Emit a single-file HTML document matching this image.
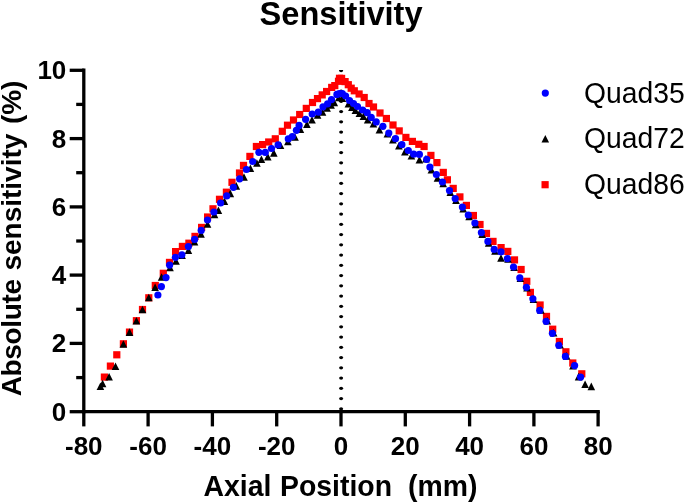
<!DOCTYPE html>
<html><head><meta charset="utf-8"><style>
html,body{margin:0;padding:0;background:#fff;}
svg{display:block;will-change:transform;}
</style></head><body>
<svg width="685" height="502" viewBox="0 0 685 502">
<defs><clipPath id="pc"><rect x="84" y="70" width="520" height="342"/></clipPath></defs>
<rect width="685" height="502" fill="#fff"/>
<g fill="#000" clip-path="url(#pc)"><ellipse cx="341.1" cy="408.8" rx="2.0" ry="1.65"/><ellipse cx="341.1" cy="398.6" rx="2.0" ry="1.65"/><ellipse cx="341.1" cy="388.3" rx="2.0" ry="1.65"/><ellipse cx="341.1" cy="378.1" rx="2.0" ry="1.65"/><ellipse cx="341.1" cy="367.8" rx="2.0" ry="1.65"/><ellipse cx="341.1" cy="357.6" rx="2.0" ry="1.65"/><ellipse cx="341.1" cy="347.3" rx="2.0" ry="1.65"/><ellipse cx="341.1" cy="337.1" rx="2.0" ry="1.65"/><ellipse cx="341.1" cy="326.8" rx="2.0" ry="1.65"/><ellipse cx="341.1" cy="316.6" rx="2.0" ry="1.65"/><ellipse cx="341.1" cy="306.3" rx="2.0" ry="1.65"/><ellipse cx="341.1" cy="296.1" rx="2.0" ry="1.65"/><ellipse cx="341.1" cy="285.8" rx="2.0" ry="1.65"/><ellipse cx="341.1" cy="275.6" rx="2.0" ry="1.65"/><ellipse cx="341.1" cy="265.3" rx="2.0" ry="1.65"/><ellipse cx="341.1" cy="255.1" rx="2.0" ry="1.65"/><ellipse cx="341.1" cy="244.8" rx="2.0" ry="1.65"/><ellipse cx="341.1" cy="234.6" rx="2.0" ry="1.65"/><ellipse cx="341.1" cy="224.3" rx="2.0" ry="1.65"/><ellipse cx="341.1" cy="214.1" rx="2.0" ry="1.65"/><ellipse cx="341.1" cy="203.8" rx="2.0" ry="1.65"/><ellipse cx="341.1" cy="193.6" rx="2.0" ry="1.65"/><ellipse cx="341.1" cy="183.3" rx="2.0" ry="1.65"/><ellipse cx="341.1" cy="173.1" rx="2.0" ry="1.65"/><ellipse cx="341.1" cy="162.8" rx="2.0" ry="1.65"/><ellipse cx="341.1" cy="152.6" rx="2.0" ry="1.65"/><ellipse cx="341.1" cy="142.3" rx="2.0" ry="1.65"/><ellipse cx="341.1" cy="132.1" rx="2.0" ry="1.65"/><ellipse cx="341.1" cy="121.8" rx="2.0" ry="1.65"/><ellipse cx="341.1" cy="111.6" rx="2.0" ry="1.65"/><ellipse cx="341.1" cy="101.3" rx="2.0" ry="1.65"/><ellipse cx="341.1" cy="91.1" rx="2.0" ry="1.65"/><ellipse cx="341.1" cy="80.8" rx="2.0" ry="1.65"/><ellipse cx="341.1" cy="70.6" rx="2.0" ry="1.65"/></g>
<g fill="#ff0000"><rect x="100.8" y="373.5" width="7.2" height="7.2"/><rect x="106.8" y="362.5" width="7.2" height="7.2"/><rect x="113.2" y="351.2" width="7.2" height="7.2"/><rect x="119.8" y="340.2" width="7.2" height="7.2"/><rect x="125.9" y="328.5" width="7.2" height="7.2"/><rect x="132.8" y="317.1" width="7.2" height="7.2"/><rect x="138.9" y="305.9" width="7.2" height="7.2"/><rect x="145.2" y="294.2" width="7.2" height="7.2"/><rect x="151.7" y="281.9" width="7.2" height="7.2"/><rect x="159.7" y="269.7" width="7.2" height="7.2"/><rect x="165.9" y="258.8" width="7.2" height="7.2"/><rect x="172.0" y="248.0" width="7.2" height="7.2"/><rect x="178.8" y="242.8" width="7.2" height="7.2"/><rect x="185.3" y="239.6" width="7.2" height="7.2"/><rect x="191.4" y="232.8" width="7.2" height="7.2"/><rect x="198.0" y="223.8" width="7.2" height="7.2"/><rect x="204.0" y="213.4" width="7.2" height="7.2"/><rect x="209.4" y="205.2" width="7.2" height="7.2"/><rect x="215.9" y="195.7" width="7.2" height="7.2"/><rect x="222.8" y="188.6" width="7.2" height="7.2"/><rect x="228.4" y="178.7" width="7.2" height="7.2"/><rect x="235.9" y="169.4" width="7.2" height="7.2"/><rect x="239.9" y="161.8" width="7.2" height="7.2"/><rect x="246.3" y="152.8" width="7.2" height="7.2"/><rect x="252.8" y="142.9" width="7.2" height="7.2"/><rect x="259.0" y="141.0" width="7.2" height="7.2"/><rect x="265.1" y="138.4" width="7.2" height="7.2"/><rect x="271.7" y="135.2" width="7.2" height="7.2"/><rect x="278.7" y="127.7" width="7.2" height="7.2"/><rect x="283.9" y="121.6" width="7.2" height="7.2"/><rect x="289.9" y="116.4" width="7.2" height="7.2"/><rect x="296.1" y="110.9" width="7.2" height="7.2"/><rect x="302.7" y="104.8" width="7.2" height="7.2"/><rect x="308.9" y="98.9" width="7.2" height="7.2"/><rect x="313.9" y="95.0" width="7.2" height="7.2"/><rect x="318.6" y="91.3" width="7.2" height="7.2"/><rect x="323.0" y="87.9" width="7.2" height="7.2"/><rect x="328.1" y="83.8" width="7.2" height="7.2"/><rect x="331.2" y="82.0" width="7.2" height="7.2"/><rect x="334.9" y="77.7" width="7.2" height="7.2"/><rect x="335.9" y="74.7" width="7.2" height="7.2"/><rect x="338.0" y="74.8" width="7.2" height="7.2"/><rect x="341.5" y="78.0" width="7.2" height="7.2"/><rect x="344.7" y="81.1" width="7.2" height="7.2"/><rect x="347.6" y="84.6" width="7.2" height="7.2"/><rect x="350.7" y="87.2" width="7.2" height="7.2"/><rect x="355.5" y="90.4" width="7.2" height="7.2"/><rect x="360.6" y="93.9" width="7.2" height="7.2"/><rect x="365.4" y="99.9" width="7.2" height="7.2"/><rect x="369.9" y="103.4" width="7.2" height="7.2"/><rect x="376.4" y="109.4" width="7.2" height="7.2"/><rect x="382.8" y="114.9" width="7.2" height="7.2"/><rect x="389.4" y="121.4" width="7.2" height="7.2"/><rect x="395.6" y="127.3" width="7.2" height="7.2"/><rect x="402.3" y="133.8" width="7.2" height="7.2"/><rect x="408.8" y="137.8" width="7.2" height="7.2"/><rect x="415.2" y="140.7" width="7.2" height="7.2"/><rect x="420.5" y="142.9" width="7.2" height="7.2"/><rect x="427.3" y="151.8" width="7.2" height="7.2"/><rect x="433.3" y="159.0" width="7.2" height="7.2"/><rect x="439.7" y="168.8" width="7.2" height="7.2"/><rect x="443.8" y="176.2" width="7.2" height="7.2"/><rect x="449.6" y="184.8" width="7.2" height="7.2"/><rect x="456.3" y="193.3" width="7.2" height="7.2"/><rect x="462.8" y="201.8" width="7.2" height="7.2"/><rect x="469.8" y="211.9" width="7.2" height="7.2"/><rect x="476.4" y="220.9" width="7.2" height="7.2"/><rect x="482.9" y="229.8" width="7.2" height="7.2"/><rect x="489.4" y="237.8" width="7.2" height="7.2"/><rect x="497.5" y="244.0" width="7.2" height="7.2"/><rect x="504.2" y="247.8" width="7.2" height="7.2"/><rect x="510.9" y="256.3" width="7.2" height="7.2"/><rect x="517.5" y="265.9" width="7.2" height="7.2"/><rect x="523.2" y="277.7" width="7.2" height="7.2"/><rect x="526.8" y="288.8" width="7.2" height="7.2"/><rect x="536.5" y="301.4" width="7.2" height="7.2"/><rect x="542.9" y="312.8" width="7.2" height="7.2"/><rect x="549.1" y="325.6" width="7.2" height="7.2"/><rect x="555.8" y="337.9" width="7.2" height="7.2"/><rect x="562.3" y="348.2" width="7.2" height="7.2"/><rect x="569.2" y="359.4" width="7.2" height="7.2"/><rect x="578.2" y="370.2" width="7.2" height="7.2"/></g>
<g fill="#000"><path d="M100.4 382.4L104.2 390.0L96.6 390.0Z"/><path d="M102.6 379.7L106.4 387.3L98.8 387.3Z"/><path d="M109.1 373.0L112.9 380.6L105.3 380.6Z"/><path d="M115.5 362.4L119.3 370.0L111.7 370.0Z"/><path d="M123.4 340.2L127.2 347.8L119.6 347.8Z"/><path d="M129.5 328.3L133.3 335.9L125.7 335.9Z"/><path d="M136.4 316.9L140.2 324.5L132.6 324.5Z"/><path d="M142.5 305.7L146.3 313.3L138.7 313.3Z"/><path d="M148.8 293.7L152.6 301.3L145.0 301.3Z"/><path d="M155.1 283.5L158.9 291.1L151.3 291.1Z"/><path d="M161.6 273.2L165.4 280.8L157.8 280.8Z"/><path d="M170.0 263.6L173.8 271.2L166.2 271.2Z"/><path d="M176.0 257.2L179.8 264.8L172.2 264.8Z"/><path d="M182.1 251.5L185.9 259.1L178.3 259.1Z"/><path d="M188.4 246.5L192.2 254.1L184.6 254.1Z"/><path d="M194.5 238.0L198.3 245.6L190.7 245.6Z"/><path d="M201.0 230.1L204.8 237.7L197.2 237.7Z"/><path d="M207.5 220.2L211.3 227.8L203.7 227.8Z"/><path d="M214.5 210.7L218.3 218.3L210.7 218.3Z"/><path d="M218.4 206.5L222.2 214.1L214.6 214.1Z"/><path d="M224.4 197.5L228.2 205.1L220.6 205.1Z"/><path d="M230.3 189.6L234.1 197.2L226.5 197.2Z"/><path d="M236.3 182.1L240.1 189.7L232.5 189.7Z"/><path d="M244.0 173.2L247.8 180.8L240.2 180.8Z"/><path d="M250.4 164.5L254.2 172.1L246.6 172.1Z"/><path d="M256.9 159.2L260.7 166.8L253.1 166.8Z"/><path d="M261.4 155.4L265.2 163.0L257.6 163.0Z"/><path d="M267.8 153.0L271.6 160.6L264.0 160.6Z"/><path d="M273.8 149.1L277.6 156.7L270.0 156.7Z"/><path d="M280.5 141.5L284.3 149.1L276.7 149.1Z"/><path d="M287.9 137.7L291.7 145.3L284.1 145.3Z"/><path d="M295.0 133.2L298.8 140.8L291.2 140.8Z"/><path d="M300.4 125.4L304.2 133.0L296.6 133.0Z"/><path d="M306.9 120.4L310.7 128.0L303.1 128.0Z"/><path d="M312.0 115.9L315.8 123.5L308.2 123.5Z"/><path d="M317.6 111.2L321.4 118.8L313.8 118.8Z"/><path d="M322.5 108.2L326.3 115.8L318.7 115.8Z"/><path d="M327.1 104.2L330.9 111.8L323.3 111.8Z"/><path d="M331.1 101.2L334.9 108.8L327.3 108.8Z"/><path d="M334.3 98.7L338.1 106.3L330.5 106.3Z"/><path d="M338.8 93.7L342.6 101.3L335.0 101.3Z"/><path d="M342.4 94.4L346.2 102.0L338.6 102.0Z"/><path d="M348.4 99.9L352.2 107.5L344.6 107.5Z"/><path d="M351.9 103.4L355.7 111.0L348.1 111.0Z"/><path d="M355.4 106.4L359.2 114.0L351.6 114.0Z"/><path d="M359.4 109.4L363.2 117.0L355.6 117.0Z"/><path d="M363.4 112.4L367.2 120.0L359.6 120.0Z"/><path d="M367.7 115.9L371.5 123.5L363.9 123.5Z"/><path d="M373.4 119.9L377.2 127.5L369.6 127.5Z"/><path d="M379.4 125.9L383.2 133.5L375.6 133.5Z"/><path d="M387.4 129.9L391.2 137.5L383.6 137.5Z"/><path d="M392.9 135.9L396.7 143.5L389.1 143.5Z"/><path d="M398.9 141.9L402.7 149.5L395.1 149.5Z"/><path d="M404.9 147.9L408.7 155.5L401.1 155.5Z"/><path d="M411.4 151.9L415.2 159.5L407.6 159.5Z"/><path d="M419.4 155.9L423.2 163.5L415.6 163.5Z"/><path d="M425.9 154.9L429.7 162.5L422.1 162.5Z"/><path d="M431.4 165.9L435.2 173.5L427.6 173.5Z"/><path d="M437.5 174.2L441.3 181.8L433.7 181.8Z"/><path d="M443.2 179.7L447.0 187.3L439.4 187.3Z"/><path d="M450.3 188.3L454.1 195.9L446.5 195.9Z"/><path d="M456.0 196.3L459.8 203.9L452.2 203.9Z"/><path d="M463.2 204.8L467.0 212.4L459.4 212.4Z"/><path d="M469.1 212.7L472.9 220.3L465.3 220.3Z"/><path d="M475.7 220.7L479.5 228.3L471.9 228.3Z"/><path d="M482.2 230.3L486.0 237.9L478.4 237.9Z"/><path d="M488.7 239.1L492.5 246.7L484.9 246.7Z"/><path d="M495.0 247.1L498.8 254.7L491.2 254.7Z"/><path d="M501.0 254.2L504.8 261.8L497.2 261.8Z"/><path d="M508.0 255.1L511.8 262.7L504.2 262.7Z"/><path d="M514.1 263.5L517.9 271.1L510.3 271.1Z"/><path d="M520.4 274.4L524.2 282.0L516.6 282.0Z"/><path d="M527.0 283.8L530.8 291.4L523.2 291.4Z"/><path d="M533.5 295.3L537.3 302.9L529.7 302.9Z"/><path d="M540.9 306.1L544.7 313.7L537.1 313.7Z"/><path d="M547.3 317.0L551.1 324.6L543.5 324.6Z"/><path d="M553.6 329.0L557.4 336.6L549.8 336.6Z"/><path d="M560.0 341.0L563.8 348.6L556.2 348.6Z"/><path d="M566.6 352.1L570.4 359.7L562.8 359.7Z"/><path d="M573.0 362.0L576.8 369.6L569.2 369.6Z"/><path d="M578.6 372.8L582.4 380.4L574.8 380.4Z"/><path d="M585.1 380.5L588.9 388.1L581.3 388.1Z"/><path d="M591.3 382.6L595.1 390.2L587.5 390.2Z"/></g>
<g fill="#0000ff"><circle cx="157.9" cy="295.0" r="3.6"/><circle cx="161.4" cy="286.6" r="3.6"/><circle cx="166.0" cy="277.6" r="3.6"/><circle cx="169.6" cy="265.1" r="3.6"/><circle cx="175.4" cy="257.3" r="3.6"/><circle cx="181.9" cy="254.8" r="3.6"/><circle cx="188.4" cy="246.6" r="3.6"/><circle cx="194.6" cy="239.4" r="3.6"/><circle cx="201.2" cy="230.4" r="3.6"/><circle cx="207.5" cy="220.0" r="3.6"/><circle cx="213.9" cy="212.0" r="3.6"/><circle cx="220.6" cy="203.0" r="3.6"/><circle cx="226.7" cy="195.9" r="3.6"/><circle cx="233.4" cy="187.3" r="3.6"/><circle cx="239.6" cy="178.8" r="3.6"/><circle cx="246.4" cy="169.5" r="3.6"/><circle cx="252.7" cy="161.5" r="3.6"/><circle cx="258.9" cy="152.3" r="3.6"/><circle cx="265.3" cy="152.4" r="3.6"/><circle cx="271.5" cy="148.5" r="3.6"/><circle cx="278.1" cy="144.9" r="3.6"/><circle cx="288.3" cy="138.9" r="3.6"/><circle cx="292.3" cy="136.5" r="3.6"/><circle cx="296.4" cy="130.3" r="3.6"/><circle cx="299.1" cy="125.4" r="3.6"/><circle cx="305.6" cy="119.3" r="3.6"/><circle cx="312.2" cy="114.0" r="3.6"/><circle cx="318.3" cy="112.2" r="3.6"/><circle cx="323.0" cy="106.8" r="3.6"/><circle cx="327.6" cy="103.8" r="3.6"/><circle cx="331.5" cy="99.6" r="3.6"/><circle cx="336.9" cy="94.4" r="3.6"/><circle cx="339.3" cy="93.6" r="3.6"/><circle cx="342.3" cy="93.6" r="3.6"/><circle cx="345.6" cy="96.0" r="3.6"/><circle cx="349.5" cy="100.5" r="3.6"/><circle cx="353.5" cy="103.5" r="3.6"/><circle cx="357.5" cy="106.5" r="3.6"/><circle cx="362.7" cy="110.0" r="3.6"/><circle cx="367.2" cy="112.7" r="3.6"/><circle cx="371.2" cy="117.4" r="3.6"/><circle cx="376.2" cy="121.9" r="3.6"/><circle cx="382.9" cy="126.3" r="3.6"/><circle cx="388.8" cy="133.1" r="3.6"/><circle cx="395.5" cy="138.7" r="3.6"/><circle cx="401.9" cy="144.7" r="3.6"/><circle cx="408.3" cy="150.5" r="3.6"/><circle cx="413.7" cy="154.2" r="3.6"/><circle cx="419.4" cy="154.4" r="3.6"/><circle cx="426.7" cy="159.3" r="3.6"/><circle cx="429.9" cy="167.1" r="3.6"/><circle cx="436.4" cy="174.5" r="3.6"/><circle cx="442.4" cy="182.0" r="3.6"/><circle cx="449.5" cy="190.6" r="3.6"/><circle cx="455.2" cy="198.6" r="3.6"/><circle cx="462.4" cy="207.1" r="3.6"/><circle cx="468.3" cy="215.0" r="3.6"/><circle cx="474.9" cy="223.0" r="3.6"/><circle cx="481.4" cy="232.6" r="3.6"/><circle cx="487.9" cy="241.4" r="3.6"/><circle cx="494.2" cy="249.4" r="3.6"/><circle cx="501.0" cy="251.9" r="3.6"/><circle cx="507.4" cy="258.6" r="3.6"/><circle cx="513.5" cy="267.0" r="3.6"/><circle cx="519.8" cy="277.9" r="3.6"/><circle cx="526.4" cy="287.3" r="3.6"/><circle cx="532.9" cy="298.8" r="3.6"/><circle cx="539.7" cy="310.4" r="3.6"/><circle cx="546.1" cy="321.3" r="3.6"/><circle cx="552.4" cy="333.3" r="3.6"/><circle cx="558.8" cy="345.3" r="3.6"/><circle cx="565.4" cy="356.4" r="3.6"/><circle cx="574.6" cy="365.6" r="3.6"/><circle cx="580.6" cy="377.1" r="3.6"/></g>
<g stroke="#000" stroke-width="3.3" stroke-linecap="butt"><line x1="83.8" y1="68.6" x2="83.8" y2="413.34999999999997"/><line x1="82.14999999999999" y1="411.7" x2="599.8" y2="411.7"/><line x1="69.7" y1="411.7" x2="83.8" y2="411.7"/><line x1="76.2" y1="377.6" x2="83.8" y2="377.6"/><line x1="69.7" y1="343.4" x2="83.8" y2="343.4"/><line x1="76.2" y1="309.3" x2="83.8" y2="309.3"/><line x1="69.7" y1="275.1" x2="83.8" y2="275.1"/><line x1="76.2" y1="241.0" x2="83.8" y2="241.0"/><line x1="69.7" y1="206.9" x2="83.8" y2="206.9"/><line x1="76.2" y1="172.7" x2="83.8" y2="172.7"/><line x1="69.7" y1="138.6" x2="83.8" y2="138.6"/><line x1="76.2" y1="104.4" x2="83.8" y2="104.4"/><line x1="69.7" y1="70.3" x2="83.8" y2="70.3"/><line x1="83.8" y1="411.7" x2="83.8" y2="426.4"/><line x1="148.1" y1="411.7" x2="148.1" y2="426.4"/><line x1="212.4" y1="411.7" x2="212.4" y2="426.4"/><line x1="276.7" y1="411.7" x2="276.7" y2="426.4"/><line x1="341.0" y1="411.7" x2="341.0" y2="426.4"/><line x1="405.3" y1="411.7" x2="405.3" y2="426.4"/><line x1="469.6" y1="411.7" x2="469.6" y2="426.4"/><line x1="533.9" y1="411.7" x2="533.9" y2="426.4"/><line x1="598.1" y1="411.7" x2="598.1" y2="426.4"/></g>
<g font-family="&quot;Liberation Sans&quot;, sans-serif" font-weight="bold" font-size="26" fill="#000"><text x="66.3" y="420.6" text-anchor="end">0</text><text x="66.3" y="352.3" text-anchor="end">2</text><text x="66.3" y="284.0" text-anchor="end">4</text><text x="66.3" y="215.8" text-anchor="end">6</text><text x="66.3" y="147.5" text-anchor="end">8</text><text x="66.3" y="79.2" text-anchor="end">10</text><text x="83.8" y="454.6" text-anchor="middle">-80</text><text x="148.1" y="454.6" text-anchor="middle">-60</text><text x="212.4" y="454.6" text-anchor="middle">-40</text><text x="276.7" y="454.6" text-anchor="middle">-20</text><text x="341.0" y="454.6" text-anchor="middle">0</text><text x="405.3" y="454.6" text-anchor="middle">20</text><text x="469.6" y="454.6" text-anchor="middle">40</text><text x="533.9" y="454.6" text-anchor="middle">60</text><text x="598.2" y="454.6" text-anchor="middle">80</text></g>
<text transform="translate(341.1,24.8) scale(1,1.03)" text-anchor="middle" font-family="&quot;Liberation Sans&quot;, sans-serif" font-weight="bold" font-size="32.6">Sensitivity</text>
<g font-family="&quot;Liberation Sans&quot;, sans-serif" font-weight="bold" font-size="28.4"><g transform="translate(0,495.8) scale(1,1.05)"><text x="203.5" y="0">Axial</text><text x="280" y="0">Position</text><text x="408" y="0">(mm)</text></g></g>
<g transform="translate(20.5,395.8) rotate(-90)" font-family="&quot;Liberation Sans&quot;, sans-serif" font-weight="bold" font-size="28"><text x="-0.5" y="0" textLength="117.3" lengthAdjust="spacing">Absolute</text><text x="125.2" y="0">sensitivity</text><text x="271.7" y="0">(%)</text></g>
<circle cx="545.3" cy="93.1" r="3.6" fill="#0000ff"/><path d="M545.3 134.9L549.1 142.6L541.5 142.6Z" fill="#000"/><rect x="541.5" y="181.1" width="7.2" height="7.2" fill="#ff0000"/><g font-family="&quot;Liberation Sans&quot;, sans-serif" font-size="28.3" fill="#000"><text transform="translate(584,102.6) scale(1,1.05)">Quad35</text><text transform="translate(584,148) scale(1,1.05)">Quad72</text><text transform="translate(584,194) scale(1,1.05)">Quad86</text></g>
</svg>
</body></html>
